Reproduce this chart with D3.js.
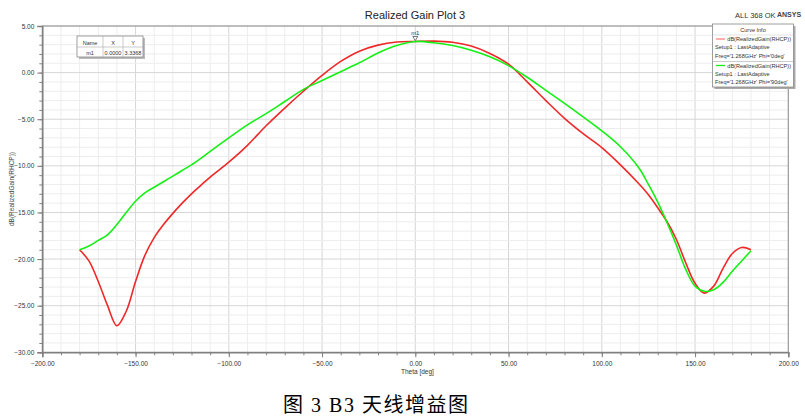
<!DOCTYPE html>
<html><head><meta charset="utf-8">
<script src="https://cdn.jsdelivr.net/npm/d3@7"></script>
<style>body{margin:0;background:#fff}svg{display:block}</style>
</head><body>
<svg id="c" width="805" height="416"></svg>
<script>
const theta = [-180,-175,-170,-165,-160,-155,-150,-145,-140,-135,-130,-125,-120,-115,-110,-100,-90,-80,-70,-60,-50,-40,-30,-20,-10,0,10,20,30,40,50,60,70,80,90,100,110,120,125,130,135,140,145,150,155,160,165,170,175,180];
const gainPhi0 = [-19.0,-20.2,-22.4,-25.0,-27.15,-25.6,-22.4,-19.6,-17.7,-16.3,-15.1,-14.0,-13.0,-12.1,-11.2,-9.6,-7.8,-5.7,-3.8,-2.0,-0.3,1.2,2.3,2.95,3.28,3.34,3.38,3.25,2.85,2.05,0.9,-1.0,-3.0,-4.9,-6.55,-8.05,-9.9,-11.95,-13.1,-14.5,-16.0,-17.9,-20.4,-22.6,-23.65,-22.9,-21.0,-19.4,-18.75,-19.0];
const gainPhi90 = [-19.0,-18.6,-18.0,-17.4,-16.3,-15.0,-13.8,-12.9,-12.3,-11.7,-11.1,-10.5,-9.9,-9.2,-8.45,-7.0,-5.6,-4.4,-3.1,-1.8,-0.85,0.1,1.05,2.1,2.9,3.34,3.2,2.9,2.4,1.7,0.75,-0.5,-1.9,-3.3,-4.75,-6.25,-7.95,-10.25,-12.0,-13.9,-16.1,-18.5,-21.1,-22.9,-23.45,-23.3,-22.5,-21.3,-20.2,-19.1];
const xTicks = [-200,-150,-100,-50,0,50,100,150,200];
const yTicks = [5,0,-5,-10,-15,-20,-25,-30];
const seriesNames = ["dB(RealizedGain(RHCP))","dB(RealizedGain(RHCP))"];
const seriesSetup = ["Setup1 : LastAdaptive","Setup1 : LastAdaptive"];
const seriesFreq = ["Freq='1.268GHz' Phi='0deg'","Freq='1.268GHz' Phi='90deg'"];
const markerRow = ["m1","0.0000","3.3368"];

const svg = d3.select("#c");
const L=42.3, R=788.3, T=26, B=352.3;
const x = d3.scaleLinear().domain([-200,200]).range([L,R]);
const y = d3.scaleLinear().domain([-30,5]).range([B,T]);
const font = "Liberation Sans, Arial, sans-serif";

// grid
const g = svg.append("g");
g.selectAll(".vx").data(d3.range(-200,201,10)).join("line")
  .attr("x1",d=>x(d)).attr("x2",d=>x(d)).attr("y1",T).attr("y2",B)
  .attr("stroke",d=>d%50===0?"#d6d6d6":"#ededed").attr("stroke-width",1);
g.selectAll(".hy").data(d3.range(-30,5.01,1)).join("line")
  .attr("y1",d=>y(d)).attr("y2",d=>y(d)).attr("x1",L).attr("x2",R)
  .attr("stroke",d=>d%5===0?"#d6d6d6":"#ededed").attr("stroke-width",1);

// frame
svg.append("rect").attr("x",L).attr("y",T).attr("width",R-L).attr("height",B-T)
  .attr("fill","none").attr("stroke","#909090").attr("stroke-width",1);

// axes
const xAxis = d3.axisBottom(x).tickValues(xTicks).tickFormat(d3.format(".2f")).tickSize(5);
const xa = svg.append("g").attr("transform",`translate(0,${B})`).call(xAxis);
const xMinor = d3.axisBottom(x).tickValues(d3.range(-200,201,10)).tickFormat("").tickSize(3);
svg.append("g").attr("transform",`translate(0,${B})`).call(xMinor).select(".domain").remove();
const yAxis = d3.axisLeft(y).tickValues(yTicks).tickFormat(d3.format(".2f")).tickSize(5);
const ya = svg.append("g").attr("transform",`translate(${L},0)`).call(yAxis);
const yMinor = d3.axisLeft(y).tickValues(d3.range(-30,5.01,1)).tickFormat("").tickSize(3);
svg.append("g").attr("transform",`translate(${L},0)`).call(yMinor).select(".domain").remove();
svg.selectAll(".domain").attr("stroke","#808080").attr("stroke-width",1.5);
svg.selectAll(".tick line").attr("stroke","#808080");
xa.selectAll("text").attr("font-family",font).attr("font-size",6.5).attr("fill","#333").attr("dy","0.9em");
ya.selectAll("text").attr("font-family",font).attr("font-size",6.5).attr("fill","#333");

// axis labels
svg.append("text").attr("x",401).attr("y",374).text("Theta [deg]")
  .attr("font-family",font).attr("font-size",6.5).attr("fill","#333");
svg.append("text").attr("transform",`translate(14,189) rotate(-90)`).attr("text-anchor","middle")
  .text("dB(RealizedGain(RHCP))").attr("font-family",font).attr("font-size",6.5).attr("fill","#444");

// title etc
svg.append("text").attr("x",415).attr("y",19).attr("text-anchor","middle").text("Realized Gain Plot 3")
  .attr("font-family",font).attr("font-size",11).attr("fill","#222");
svg.append("text").attr("x",735).attr("y",18).text("ALL 368 OK")
  .attr("font-family",font).attr("font-size",7.5).attr("fill","#333");
svg.append("text").attr("x",777).attr("y",17).text("ANSYS")
  .attr("font-family",font).attr("font-size",7).attr("font-weight","bold").attr("fill","#444");

// curves
const line = d3.line().x(d=>x(d[0])).y(d=>y(d[1])).curve(d3.curveCatmullRom.alpha(0.5));
const colors = ["#f02828","#14f014"];
[gainPhi0,gainPhi90].forEach((s,i)=>{
  svg.append("path").datum(theta.map((t,k)=>[t,s[k]])).attr("d",line)
    .attr("fill","none").attr("stroke",colors[i]).attr("stroke-width",1.6);
});

// marker m1
const mx = x(0), my = y(3.3368);
svg.append("path").attr("d",`M${mx-2.5},${my-5}L${mx+2.5},${my-5}L${mx},${my-1}Z`)
  .attr("fill","#fff").attr("stroke","#555").attr("stroke-width",0.8);
svg.append("text").attr("x",mx).attr("y",my-7).attr("text-anchor","middle").text("m1")
  .attr("font-family",font).attr("font-size",6).attr("fill","#333");

// marker table
const tb = svg.append("g");
tb.append("rect").attr("x",79).attr("y",38).attr("width",66).attr("height",21).attr("fill","#bbb");
tb.append("rect").attr("x",77).attr("y",36).attr("width",66).attr("height",21).attr("fill","#fff").attr("stroke","#888").attr("stroke-width",0.8);
tb.append("line").attr("x1",77).attr("x2",143).attr("y1",47).attr("y2",47).attr("stroke","#aaa").attr("stroke-width",0.6);
[103,123].forEach(cx=>tb.append("line").attr("x1",cx).attr("x2",cx).attr("y1",36).attr("y2",57).attr("stroke","#aaa").attr("stroke-width",0.6));
const cols=[90,113,133];
["Name","X","Y"].forEach((t,i)=>tb.append("text").attr("x",cols[i]).attr("y",44.5).attr("text-anchor","middle").text(t)
  .attr("font-family",font).attr("font-size",5.5).attr("fill","#333"));
markerRow.forEach((t,i)=>tb.append("text").attr("x",cols[i]).attr("y",54.5).attr("text-anchor","middle").text(t)
  .attr("font-family",font).attr("font-size",5.5).attr("fill","#333"));

// legend
const lg = svg.append("g");
lg.append("rect").attr("x",714.5).attr("y",26).attr("width",81).attr("height",63).attr("fill","#aaa");
lg.append("rect").attr("x",712.5).attr("y",24).attr("width",81).attr("height",63).attr("fill","#fff").attr("stroke","#888").attr("stroke-width",0.8);
lg.append("text").attr("x",753).attr("y",32).attr("text-anchor","middle").text("Curve Info")
  .attr("font-family",font).attr("font-size",5.5).attr("fill","#333");
lg.append("line").attr("x1",712.5).attr("x2",793.5).attr("y1",35).attr("y2",35).attr("stroke","#ccc").attr("stroke-width",0.6);
lg.append("line").attr("x1",712.5).attr("x2",793.5).attr("y1",61.5).attr("y2",61.5).attr("stroke","#aaa").attr("stroke-width",0.6);
[0,1].forEach(i=>{
  const oy = 39 + i*26.5;
  lg.append("line").attr("x1",716).attr("x2",725).attr("y1",oy).attr("y2",oy).attr("stroke",i===0?"#ff8080":colors[1]).attr("stroke-width",1.3);
  lg.append("text").attr("x",791).attr("y",oy+2).attr("text-anchor","end").text(seriesNames[i])
    .attr("font-family",font).attr("font-size",5.6).attr("fill","#333");
  lg.append("text").attr("x",715).attr("y",oy+10).text(seriesSetup[i])
    .attr("font-family",font).attr("font-size",5.6).attr("fill","#333");
  lg.append("text").attr("x",715).attr("y",oy+18.5).text(seriesFreq[i])
    .attr("font-family",font).attr("font-size",5.6).attr("fill","#333");
});

// caption
svg.append("text").attr("x",283).attr("y",412).text("图 3 B3 天线增益图")
  .attr("font-family","'Liberation Serif','DejaVu Serif','Noto Sans CJK SC',serif").attr("font-size",20).attr("fill","#000")
  .attr("textLength",185).attr("lengthAdjust","spacing");
</script>
</body></html>
